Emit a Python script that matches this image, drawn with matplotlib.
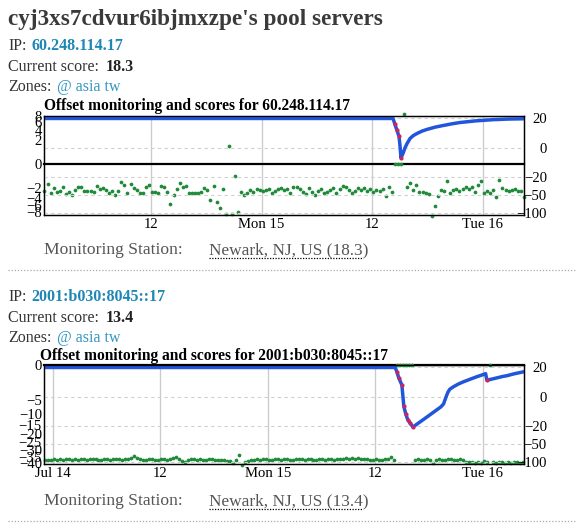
import numpy as np
import pandas as pd
import matplotlib
matplotlib.use("Agg")
import matplotlib.pyplot as plt
import matplotlib.dates as mdates
from matplotlib.lines import Line2D

plt.rcParams['font.family'] = ['Liberation Serif', 'DejaVu Serif']

W, H = 577, 531

# ---------------- page text
owner = "cyj3xs7cdvur6ibjmxzpe"
server_ips = ["60.248.114.17", "2001:b030:8045::17"]
current_scores = ["18.3", "13.4"]
zone_text = "@ asia tw"
station = "Newark, NJ, US"

# ---------------- chart 1 data (60.248.114.17)
offsets1_start = "2024-07-14 00:27"   # one sample every 20 minutes
offsets1 = [
    -2.64, -1.45, -3.05, -2.1, -2.84, -2.64, -1.9, -3.26, -2.84, -3.48,
    -2.45, -1.9, -1.9, -2.64, -2.64, -2.64, -2.84, -1.75, -2.26, -2.1,
    -2.45, -3.05, -2.64, -3.48, -2.64, -1.17, -1.6, -3.05, -1.45, -2.1,
    -2.45, -3.05, -3.05, -1.9, -1.6, -2.84, -2.84, -3.05, -1.75, -1.9,
    -2.84, -5.8, -3.48, -2.26, -1.31, -1.9, -1.75, -3.05, -3.05, -3.05,
    -3.05, -2.84, -2.1, -2.45, -4.69, -1.75, -5.2, -7.0, -2.26, -9.0,
    1.1, -9.0, -0.52, -8.0, -2.84, -3.48, -3.05, -2.45, -2.84, -2.26,
    -2.45, -2.64, -2.45, -2.26, -3.05, -2.64, -2.26, -2.1, -2.45, -2.26,
    -3.05, -1.9, -1.9, -2.26, -2.84, -3.26, -2.1, -2.84, -3.48, -2.64,
    -2.26, -3.05, -2.84, -2.45, -2.1, -3.05, -2.26, -1.75, -1.9, -2.45,
    -3.05, -2.64, -2.1, -2.45, -2.1, -2.64, -2.26, -2.84, -2.45, -2.64,
    -2.26, -3.7, -1.9, -2.84, 0, 0, 0, 8.7, -1.9, -1.31,
    -2.45, -1.6, -2.84, -2.84, -3.05, -3.26, -9.4, -6.4, -3.7, -2.45,
    -2.64, -1.05, -3.05, -2.45, -2.26, -2.64, -2.26, -1.9, -2.26, -1.9,
    -2.84, -1.6, -1.05, -3.05, -2.64, -3.05, -2.45, -3.94, -0.93, -2.1,
    -2.45, -2.64, -2.45, -2.26, -2.64, -2.64, -3.94,
]
score1_hours = [0.45, 38.25, 38.46, 38.68, 38.9, 39.0, 39.11, 39.33, 39.55, 39.77,
                40.1, 40.45, 40.85, 41.4, 41.93, 42.8, 43.67, 44.6, 45.5, 47.2,
                49.1, 50.7, 52.45]
score1 = [20, 20, 16, 12, 8, 2, -6.5, -3.4, 0.5, 3.3,
          6.7, 8.6, 10, 11.6, 12.7, 14.2, 15.3, 16.4, 17.3, 18.4,
          19.2, 19.6, 19.8]
bad1_hours = [38.46, 38.68, 38.9, 39.11]
bad1 = [16, 12, 8, -6.5]

# ---------------- chart 2 data (2001:b030:8045::17)
offsets2_start = "2024-07-13 23:05"
offsets2 = [
    -37.2, -37.6, -37.2, -37.0, -37.4, -36.8, -37.2, -36.6, -37.0, -37.2,
    -36.8, -37.4, -37.0, -36.8, -37.2, -37.0, -36.6, -37.0, -37.2, -37.4,
    -37.0, -36.8, -37.2, -36.6, -36.8, -37.0, -37.2, -36.4, -36.8, -36.0,
    -34.6, -36.2, -37.0, -37.4, -37.2, -36.8, -37.0, -37.4, -37.2, -36.8,
    -37.0, -37.4, -36.6, -36.2, -35.0, -37.0, -38.4, -39.2, -37.4, -37.0,
    -36.8, -37.2, -37.0, -37.4, -37.2, -36.8, -37.0, -37.2, -37.6, -37.4,
    -37.8, -38.2, -38.0, -39.6, -37.4, -33.6, -41.6, -39.4, -38.2, -37.6,
    -37.4, -37.0, -37.2, -36.8, -37.0, -37.2, -37.4, -37.0, -36.8, -37.2,
    -37.0, -36.8, -37.2, -37.4, -37.0, -36.6, -37.0, -37.2, -36.8, -37.0,
    -37.2, -37.4, -37.0, -36.8, -37.2, -37.0, -36.8, -37.4, -37.0, -36.6,
    -36.4, -36.2, -36.6, -36.0, -36.4, -36.2, -36.6, -36.4, -37.0, -37.2,
    -37.4, -37.0, -37.2, -37.6, -37.0, -36.4, -35.6, -37.6, 0, 0,
    0, 0, 0, 0, -37.2, -37.0, -37.4, -37.2, -36.8, -37.4,
    -40.2, -37.2, -37.0, -37.4, -37.2, -36.8, -37.0, -37.2, -37.4, -37.0,
    -37.6, -38.8, -39.2, -39.0, -39.6, -39.2, -39.8, -38.6, -39.4, 0,
    -39.2, -39.6, -39.0, -39.4, -39.8, -39.2, -39.6, -39.0, -39.4, -39.8,
    -39.4,
]
score2_hours = [-1.0, 38.2, 38.39, 38.6, 38.95, 39.17, 39.4, 39.6, 39.85, 40.18,
                41.74, 43.3, 43.6, 43.86, 44.08, 44.3, 44.64, 45.2, 45.76, 46.5,
                47.3, 47.99, 48.3, 48.44, 49.1, 50.2, 50.67, 51.5, 52.6]
score2 = [20, 20, 17.2, 13.1, 8.3, -6.2, -11.7, -15.2, -17.5, -21,
          -13.5, -6.5, -4.5, 0, 3.4, 5.5, 6.9, 8.8, 10.3, 12,
          13.8, 15.2, 15.9, 11.5, 12.4, 14, 14.5, 15.8, 17.2]
bad2_hours = [38.39, 38.6, 38.95, 39.17, 39.4, 39.6, 39.85, 40.18, 48.44]
bad2 = [17.2, 13.1, 8.3, -6.2, -11.7, -15.2, -17.5, -21, 11.5]

# ---------------- axis ticks
tick_times1 = ["2024-07-14 12:00", "2024-07-15 00:00", "2024-07-15 12:00", "2024-07-16 00:00"]
tick_labels1 = ["12", "Mon 15", "12", "Tue 16"]
tick_times2 = ["2024-07-14 00:00"] + tick_times1
tick_labels2 = ["Jul 14"] + tick_labels1
offset_ticks1 = [8, 6, 4, 2, 0, -2, -4, -6, -8]
offset_ticks2 = [0, -5, -10, -15, -20, -25, -30, -35, -40]
score_ticks = [20, 0, -20, -50, -100]

BLUE = "#2156dc"
GREEN = "#1f8a3a"
RED = "#c8265e"
LINK = "#1f87b5"
TEXT = "#333333"
BASE = pd.Timestamp("2024-07-14 00:00")


def sqrt_fwd(v):
    v = np.asarray(v, dtype=float)
    return np.sign(v) * np.sqrt(np.abs(v))


def sqrt_inv(u):
    u = np.asarray(u, dtype=float)
    return np.sign(u) * u ** 2


score_knots = [-105, -100, -50, -20, 0, 20, 22]
score_pos = [0.0, 0.02, 0.207, 0.379, 0.672, 0.975, 1.0]


def score_fwd(v):
    return np.interp(v, score_knots, score_pos)


def score_inv(u):
    return np.interp(u, score_pos, score_knots)


def minus(v):
    return str(v).replace("-", "\u2212")


fig = plt.figure(figsize=(W / 100, H / 100), dpi=100)


def ftext(x, y, s, **kw):
    fig.text(x / W, 1 - y / H, s, va="baseline", **kw)


def hline(x0, x1, y, **kw):
    fig.add_artist(Line2D([x0 / W, x1 / W], [1 - y / H, 1 - y / H],
                          transform=fig.transFigure, **kw))


def draw_chart(top, xlim, off_start, offs, off_lim, off_ticks,
               sc_hours, sc, bad_hours, bad, ticks, labels):
    ax = fig.add_axes([44 / W, 1 - (top + 99) / H, 480 / W, 99 / H])
    ax.set_yscale("function", functions=(sqrt_fwd, sqrt_inv))
    ax.set_ylim(*off_lim)
    ax.set_xlim(mdates.date2num(pd.Timestamp(xlim[0])), mdates.date2num(pd.Timestamp(xlim[1])))
    ax2 = ax.twinx()
    ax2.set_yscale("function", functions=(score_fwd, score_inv))
    ax2.set_ylim(-105, 22)

    # grid
    ax.set_xticks(mdates.date2num(pd.to_datetime(ticks)))
    ax.set_xticklabels(labels)
    ax.grid(axis="x", color="#cccccc", lw=1)
    ax.set_axisbelow(True)
    ax2.set_yticks(score_ticks)
    ax2.set_yticklabels([minus(t) for t in score_ticks])
    ax2.grid(axis="y", color="#cfcfcf", lw=0.8, ls=(0, (3, 3)))

    # offsets
    t_off = pd.date_range(off_start, periods=len(offs), freq="20min")
    ax.axhline(0, color="black", lw=1.6, clip_on=False, zorder=2)
    ax.plot(t_off, offs, "o", ms=2.7, mew=0, color=GREEN, clip_on=False, zorder=3)

    # scores
    t_sc = BASE + pd.to_timedelta(sc_hours, unit="h")
    t_bad = BASE + pd.to_timedelta(bad_hours, unit="h")
    ax2.plot(t_sc, sc, color=BLUE, lw=2.5, solid_capstyle="round", solid_joinstyle="round")
    ax2.plot(t_bad, bad, "o", ms=3.0, mew=0, color=RED)

    ax.set_yticks(off_ticks)
    ax.set_yticklabels([minus(t) for t in off_ticks])
    ax.tick_params(axis="y", length=0, pad=1.5, labelsize=10.6, colors="black")
    ax.tick_params(axis="x", length=0, pad=2.2, labelsize=10.6, colors="black")
    ax2.tick_params(axis="y", length=0, pad=16.5, labelsize=10.6, colors="black")
    for lbl in ax2.get_yticklabels():
        lbl.set_ha("right")
    for a in (ax, ax2):
        for sp in a.spines.values():
            sp.set_color("black")
            sp.set_linewidth(0.9)
    return ax


# ---------------- header
ftext(8, 25, owner + "'s pool servers", fontsize=16.7, fontweight="bold", color="#3a3a3a")

blocks = [
    dict(y0=0, ip=server_ips[0], score=current_scores[0], title_x=44),
    dict(y0=251, ip=server_ips[1], score=current_scores[1], title_x=40),
]
for b in blocks:
    y0 = b["y0"]
    ftext(8, 50 + y0, "IP:", fontsize=11.5, color=TEXT)
    ftext(31, 50 + y0, b["ip"], fontsize=11.5, fontweight="bold", color=LINK)
    ftext(8, 71 + y0, "Current score:", fontsize=11.5, color=TEXT)
    ftext(106, 71 + y0, b["score"], fontsize=11.5, fontweight="bold", color="#222222")
    ftext(8, 91 + y0, "Zones:", fontsize=11.5, color=TEXT)
    ftext(57, 91 + y0, zone_text, fontsize=11.5, color="#3597c0")
    ftext(b["title_x"], 110 + y0 - (1 if y0 else 0),
          "Offset monitoring and scores for " + b["ip"],
          fontsize=11.2, fontweight="bold", color="black")
    ftext(44, 254 + y0, "Monitoring Station:", fontsize=12.6, color="#555555")
    ftext(209, 254 + y0, f"{station} ({b['score']})", fontsize=12.4, color="#555555")
    hline(209, 363, 258 + y0, color="black", lw=0.9, ls=(0, (1, 1.2)))
    hline(8, 577, 270 + y0, color="#aaaaaa", lw=0.9, ls=(0, (1, 1.5)))

draw_chart(116, ("2024-07-14 00:24", "2024-07-16 04:27"), offsets1_start, offsets1,
           (-9.2, 8.0), offset_ticks1, score1_hours, score1, bad1_hours, bad1,
           tick_times1, tick_labels1)
draw_chart(365, ("2024-07-13 23:00", "2024-07-16 04:35"), offsets2_start, offsets2,
           (-40.8, 0.0), offset_ticks2, score2_hours, score2, bad2_hours, bad2,
           tick_times2, tick_labels2)

fig.savefig("out.png", dpi=100, facecolor="white")
